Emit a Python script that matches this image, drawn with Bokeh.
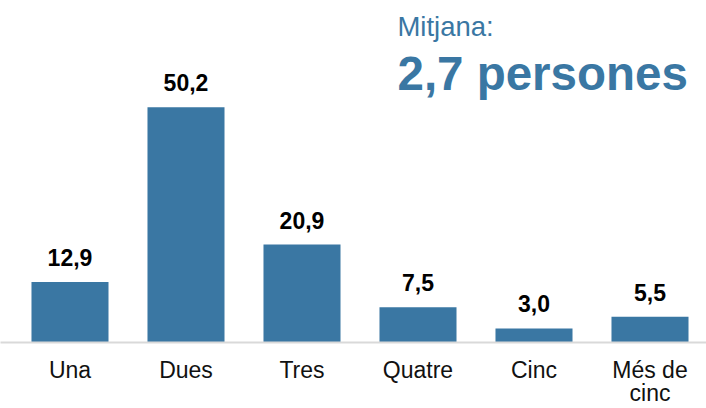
from bokeh.plotting import figure
from bokeh.models import ColumnDataSource, LabelSet, Label, Range1d, FixedTicker
from bokeh.core.properties import value
from bokeh.embed import file_html
from bokeh.resources import INLINE

categories = ["Una", "Dues", "Tres", "Quatre", "Cinc", "Més de\ncinc"]
values = [12.9, 50.2, 20.9, 7.5, 3.0, 5.5]
value_labels = ["12,9", "50,2", "20,9", "7,5", "3,0", "5,5"]
title_small = "Mitjana:"
title_big = "2,7 persones"

BLUE = "#3a77a3"
FONT = "Liberation Sans"

xs = list(range(len(categories)))
src = ColumnDataSource(dict(x=xs, top=values, lab=value_labels))

p = figure(width=706, height=408, output_backend="svg", toolbar_location=None,
           x_range=Range1d(-0.5991, 5.4871), y_range=Range1d(0, 72.96),
           y_axis_location=None, min_border_left=0, min_border_right=0,
           min_border_top=0, min_border_bottom=65)
p.outline_line_color = None
p.grid.visible = False
p.background_fill_color = "white"
p.border_fill_color = "white"

p.vbar(x="x", top="top", width=0.664, bottom=0, source=src,
       fill_color=BLUE, line_color=None)

ax = p.xaxis[0]
ax.ticker = FixedTicker(ticks=xs)
ax.major_label_overrides = {i: c for i, c in enumerate(categories)}
ax.axis_line_color = "#d9d9d9"
ax.axis_line_width = 2
ax.major_tick_line_color = None
ax.minor_tick_line_color = None
ax.major_tick_out = 0
ax.major_tick_in = 0
ax.major_label_standoff = 14
ax.major_label_text_font = FONT
ax.major_label_text_font_size = "23px"
ax.major_label_text_color = "#111111"
ax.major_label_text_line_height = 0.9

labels = LabelSet(x="x", y="top", text="lab", source=src, text_align="center",
                  text_baseline="alphabetic", y_offset=16,
                  text_font=value(FONT), text_font_size=value("23px"),
                  text_font_style="bold", text_color="#000000")
p.add_layout(labels)

p.add_layout(Label(x=2.823, y=67.4, text=title_small, text_font=FONT,
                   text_font_size="27.5px", text_color=BLUE,
                   text_baseline="alphabetic", text_align="left"))
p.add_layout(Label(x=2.823, y=57.4, text=title_big, text_font=FONT,
                   text_font_size="47.5px", text_font_style="bold", text_color=BLUE,
                   text_baseline="alphabetic", text_align="left"))

open("out.html", "w").write(file_html(p, INLINE))
